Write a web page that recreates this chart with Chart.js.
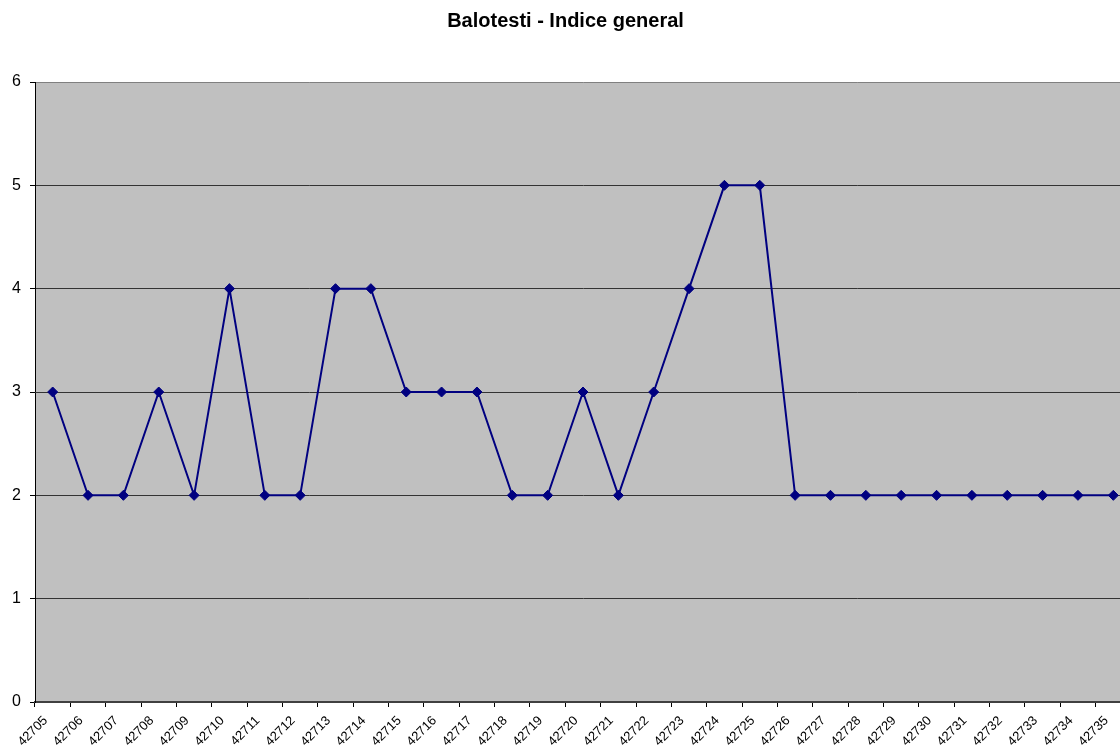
<!DOCTYPE html>
<html>
<head>
<meta charset="utf-8">
<script src="https://cdn.jsdelivr.net/npm/chart.js@4/dist/chart.umd.min.js"></script>
<style>
  html, body { margin: 0; padding: 0; background: #fff; overflow: hidden; }
  #wrap { width: 1140px; height: 751px; }
</style>
</head>
<body>
<div id="wrap"><canvas id="c" width="1140" height="751"></canvas></div>
<script>
const chartTitle = "Balotesti - Indice general";
const categories = ["42705","42706","42707","42708","42709","42710","42711","42712","42713","42714","42715","42716","42717","42718","42719","42720","42721","42722","42723","42724","42725","42726","42727","42728","42729","42730","42731","42732","42733","42734","42735"];
const values = [3,2,2,3,2,4,2,2,4,4,3,3,3,2,2,3,2,3,4,5,5,2,2,2,2,2,2,2,2,2,2];
const yTicks = [0,1,2,3,4,5,6];

const plotBg = {
  id: 'plotBg',
  beforeDraw(chart) {
    const a = chart.chartArea, ctx = chart.ctx;
    ctx.save();
    ctx.fillStyle = '#C0C0C0';
    ctx.fillRect(a.left, a.top, a.right - a.left, a.bottom - a.top);
    ctx.restore();
  }
};

new Chart(document.getElementById('c'), {
  type: 'line',
  data: {
    labels: categories,
    datasets: [{
      data: values,
      borderColor: '#000080',
      backgroundColor: '#000080',
      borderWidth: 2,
      pointStyle: 'rectRot',
      pointRadius: 5,
      pointHoverRadius: 5,
      pointBackgroundColor: '#000080',
      pointBorderColor: '#000080',
      pointBorderWidth: 1,
      tension: 0,
      fill: false,
      clip: false
    }]
  },
  options: {
    responsive: false,
    animation: false,
    events: [],
    layout: { padding: { left: 0, right: 9, top: 0, bottom: 0 } },
    plugins: {
      legend: { display: false },
      tooltip: { enabled: false },
      title: {
        display: true,
        text: chartTitle,
        color: '#000',
        font: { family: 'Liberation Sans, Arial, sans-serif', size: 20, weight: 'bold', lineHeight: 1.2 },
        padding: { top: 9, bottom: 49 }
      }
    },
    scales: {
      x: {
        type: 'category',
        offset: true,
        grid: {
          offset: true,
          drawOnChartArea: false,
          drawTicks: true,
          tickLength: 5,
          tickColor: '#000',
          tickWidth: 1
        },
        border: { display: true, color: '#404040', width: 2 },
        ticks: {
          autoSkip: false,
          maxRotation: 45,
          minRotation: 45,
          padding: 6,
          labelOffset: -7,
          color: '#000',
          font: { family: 'Liberation Sans, Arial, sans-serif', size: 13 }
        },
        afterFit(scale) { scale.height = 49; }
      },
      y: {
        min: 0,
        max: 6,
        afterBuildTicks(scale) { scale.ticks = yTicks.map(v => ({ value: v })); },
        grid: {
          color: ctx => (ctx.tick && ctx.tick.value === 6) ? '#808080' : '#333333',
          lineWidth: 1,
          drawTicks: true,
          tickLength: 5,
          tickColor: '#000'
        },
        border: { display: true, color: '#000', width: 1 },
        ticks: {
          padding: 9,
          color: '#000',
          font: { family: 'Liberation Sans, Arial, sans-serif', size: 16 }
        },
        afterFit(scale) { scale.width = 35; }
      }
    }
  },
  plugins: [plotBg]
});
</script>
</body>
</html>
